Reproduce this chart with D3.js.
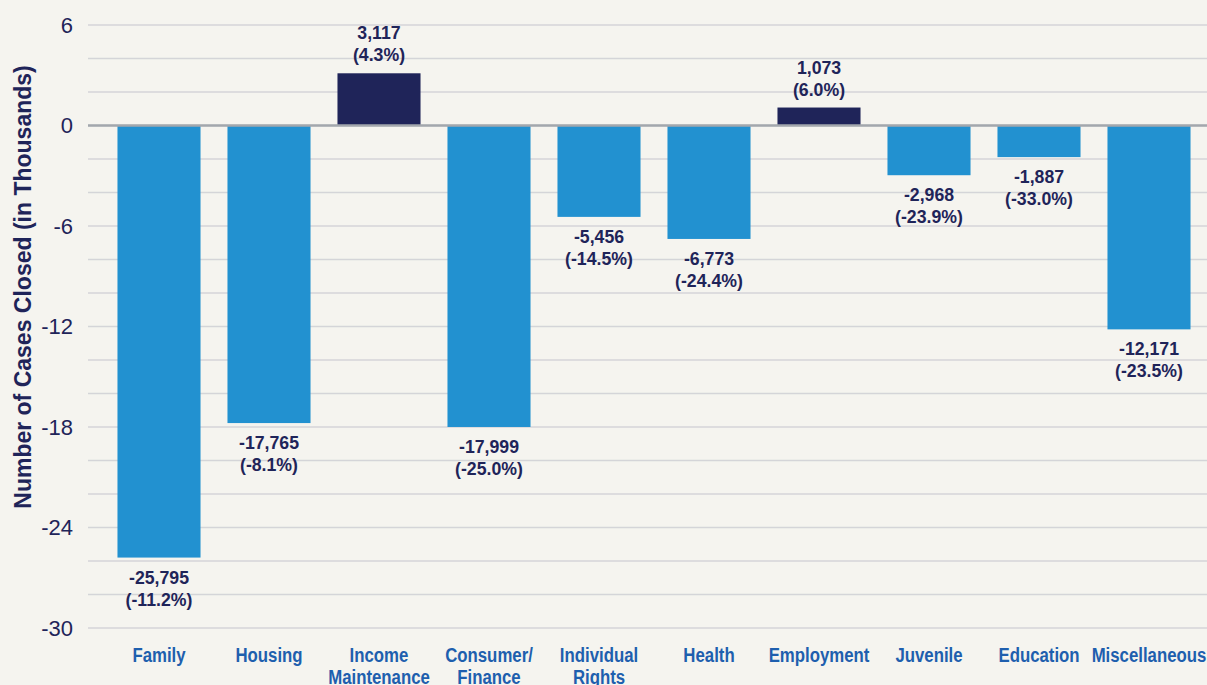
<!DOCTYPE html>
<html>
<head>
<meta charset="utf-8">
<script src="https://cdn.jsdelivr.net/npm/d3@7"></script>
<style>
  body { margin: 0; background: #f5f4ef; }
  svg { display: block; }
</style>
</head>
<body>
<div id="chart"></div>
<script>
// ------------- DATA ---------------------------
var categories = ["Family", "Housing", "Income\nMaintenance", "Consumer/\nFinance", "Individual\nRights",
                  "Health", "Employment", "Juvenile", "Education", "Miscellaneous"];
// change in cases closed
var changes = [-25795, -17765, 3117, -17999, -5456, -6773, 1073, -2968, -1887, -12171];
var pctChanges = ["-11.2%", "-8.1%", "4.3%", "-25.0%", "-14.5%", "-24.4%", "6.0%", "-23.9%", "-33.0%", "-23.5%"];
var yTicks = [6, 0, -6, -12, -18, -24, -30];

var data = categories.map(function (c, i) {
    return { cat: c, value: changes[i] / 1000, raw: changes[i], pct: pctChanges[i] };
});

var width = 1207;
var height = 685;
var navy = "#1f2459";
var blue = "#2291d0";
var fmt = function (v) { return d3.format(",")(v).replace("\u2212", "-"); };

var svg = d3.select("#chart")
    .append("svg")
    .attr("width", width)
    .attr("height", height);

var x = d3.scaleBand()
    .domain(categories)
    .range([104, 1204])
    .paddingInner(0.245)
    .paddingOuter(0.1225);

var y = d3.scaleLinear()
    .domain([-30, 6])
    .range([628, 25]);

// gridlines every 2 thousand
var grid = svg.append("g");
grid.selectAll("line")
    .data(d3.range(-30, 7, 2))
    .enter().append("line")
    .attr("x1", 88)
    .attr("x2", width)
    .attr("y1", function (d) { return y(d); })
    .attr("y2", function (d) { return y(d); })
    .attr("stroke", "#d4d5d8")
    .attr("stroke-width", 1.5);

// y axis labels
var yAxis = svg.append("g")
    .attr("transform", "translate(73,0)")
    .call(d3.axisLeft(y).tickValues(yTicks).tickSize(0).tickPadding(0)
        .tickFormat(function (d) { return String(d); }));
yAxis.select(".domain").remove();
yAxis.selectAll("text")
    .attr("fill", navy)
    .style("font-family", "'Liberation Sans', Arial, sans-serif")
    .style("font-size", "22px");

// bars
svg.append("g").selectAll("rect")
    .data(data)
    .enter().append("rect")
    .attr("x", function (d) { return x(d.cat); })
    .attr("width", x.bandwidth())
    .attr("y", function (d) { return y(Math.max(0, d.value)); })
    .attr("height", function (d) { return Math.abs(y(d.value) - y(0)); })
    .attr("fill", function (d) { return d.value > 0 ? navy : blue; });

// zero line
svg.append("line")
    .attr("x1", 88)
    .attr("x2", width)
    .attr("y1", y(0))
    .attr("y2", y(0))
    .attr("stroke", "#a3a7ad")
    .attr("stroke-width", 2.5);

// value labels
var labels = svg.append("g").selectAll("text")
    .data(data)
    .enter().append("text")
    .attr("text-anchor", "middle")
    .attr("fill", navy)
    .style("font-family", "'Liberation Sans', Arial, sans-serif")
    .style("font-weight", "bold")
    .style("font-size", "17.7px")
    .attr("transform", function (d) {
        var cx = x(d.cat) + x.bandwidth() / 2;
        var base = d.value < 0 ? y(d.value) + 26 : y(d.value) - 34;
        return "translate(" + cx + "," + base + ")";
    });
labels.append("tspan")
    .attr("x", 0)
    .attr("y", 0)
    .text(function (d) { return fmt(d.raw); });
labels.append("tspan")
    .attr("x", 0)
    .attr("y", 22)
    .text(function (d) { return "(" + d.pct + ")"; });

// category labels (condensed look)
var catLabels = svg.append("g").selectAll("text")
    .data(categories)
    .enter().append("text")
    .attr("text-anchor", "middle")
    .attr("fill", "#1e5fae")
    .style("font-family", "'Liberation Sans', Arial, sans-serif")
    .style("font-weight", "bold")
    .style("font-size", "21px")
    .attr("transform", function (d) {
        return "translate(" + (x(d) + x.bandwidth() / 2) + ",662)scale(0.8,1)";
    });
catLabels.selectAll("tspan")
    .data(function (d) { return d.split("\n"); })
    .enter().append("tspan")
    .attr("x", 0)
    .attr("y", function (d, i) { return i * 22; })
    .text(function (d) { return d; });

// y axis title
svg.append("text")
    .attr("transform", "translate(31,287)rotate(-90)")
    .attr("text-anchor", "middle")
    .attr("fill", navy)
    .style("font-family", "'Liberation Sans', Arial, sans-serif")
    .style("font-weight", "bold")
    .style("font-size", "23px")
    .text("Number of Cases Closed (in Thousands)");
</script>
</body>
</html>
